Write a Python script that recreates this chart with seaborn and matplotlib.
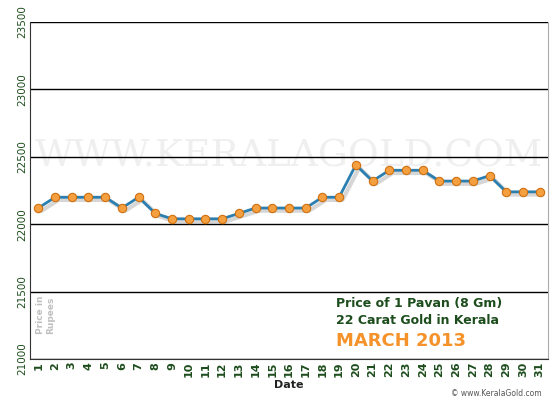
import matplotlib
matplotlib.use("Agg")
import matplotlib.pyplot as plt
import seaborn as sns
import pandas as pd

days = list(range(1, 32))
prices = [22120, 22200, 22200, 22200, 22200, 22120, 22200, 22080, 22040, 22040,
          22040, 22040, 22080, 22120, 22120, 22120, 22120, 22200, 22200, 22440,
          22320, 22400, 22400, 22400, 22320, 22320, 22320, 22360, 22240, 22240,
          22240]
yticks = [21000, 21500, 22000, 22500, 23000, 23500]

df = pd.DataFrame({"day": days, "price": prices})

sns.set_style("white")
fig = plt.figure(figsize=(5.5, 4), dpi=100)
ax = fig.add_axes([30 / 550, 1 - 359 / 400, 518 / 550, 337 / 400])

# drop shadow
ax.plot(df["day"] + 0.2, df["price"] - 20, color="#333333", alpha=0.2, lw=3, zorder=1)
sns.lineplot(data=df, x="day", y="price", ax=ax, color="#2a7fb0", lw=2, zorder=2,
             marker="o", markersize=6, markerfacecolor="#f5a040",
             markeredgecolor="#d07010", markeredgewidth=0.8)

ax.set_xlim(0.5, 31.5)
ax.set_ylim(21000, 23500)
ax.set_yticks(yticks)
ax.set_xticks(days)
ax.set_xticklabels([str(d) for d in days], rotation=90, fontsize=8,
                   fontweight="bold", color="#1d4d1d")
ax.set_yticklabels([str(t) for t in yticks], rotation=90, fontsize=7.5,
                   color="#1d4d1d", va="center")
ax.tick_params(axis="both", length=0, pad=2)
ax.grid(axis="y", color="black", lw=1)
ax.spines["top"].set_visible(False)
ax.spines["left"].set_color("#333333")
ax.spines["bottom"].set_color("#333333")
ax.spines["right"].set_color("#aaaaaa")
ax.set_xlabel("Date", fontsize=8, fontweight="bold", color="#222222", labelpad=2)
ax.set_ylabel("")

ax.text(0.5, 0.6, "WWW.KERALAGOLD.COM", transform=ax.transAxes, ha="center", va="center",
        fontsize=27, family="DejaVu Serif", color="#efefef", zorder=0)
ax.text(0.012, 0.13, "Price in\nRupees", transform=ax.transAxes, rotation=90, fontsize=6.5,
        fontweight="bold", color="#c0c0c0", ha="left", va="center")
fig.text(0.61, 0.232, "Price of 1 Pavan (8 Gm)", fontsize=9, fontweight="bold", color="#1d4d1d")
fig.text(0.61, 0.19, "22 Carat Gold in Kerala", fontsize=9, fontweight="bold", color="#1d4d1d")
fig.text(0.61, 0.135, "MARCH 2013", fontsize=13, fontweight="bold", color="#f5922a")
fig.text(0.985, 0.01, "© www.KeralaGold.com", fontsize=5.5, color="#555555", ha="right")

fig.savefig("out.png", dpi=100)
